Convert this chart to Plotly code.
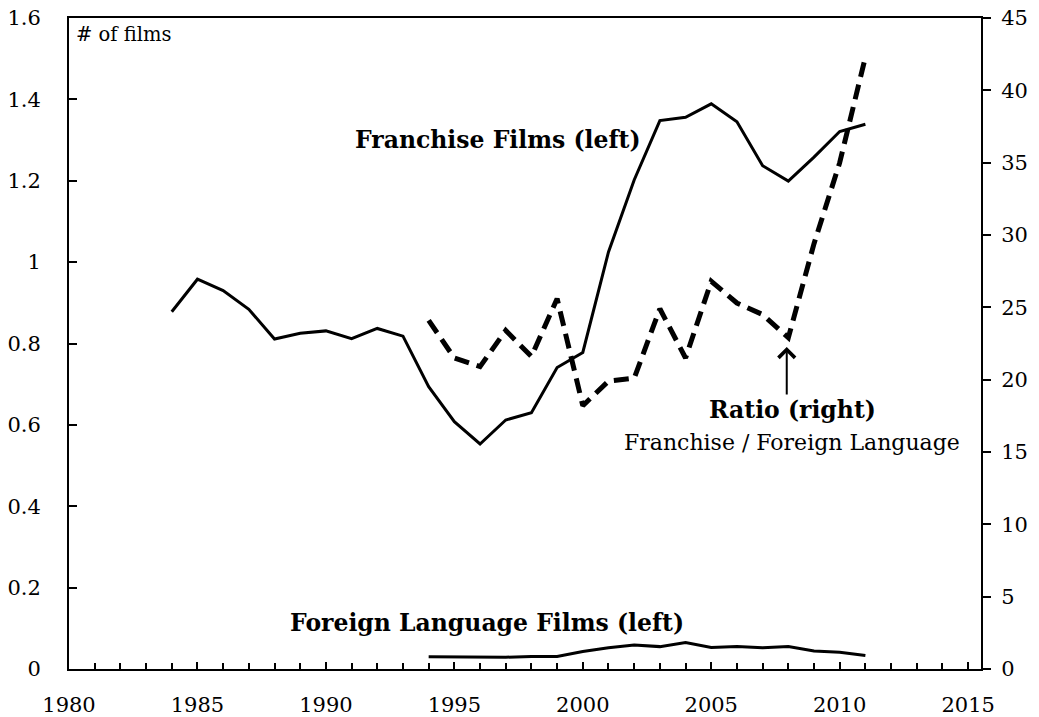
import plotly.graph_objects as go

# ---- data ----
years_franchise = list(range(1984, 2012))
franchise_films = [0.878, 0.958, 0.930, 0.884, 0.811, 0.825, 0.831, 0.812, 0.837, 0.818,
                   0.694, 0.608, 0.553, 0.612, 0.630, 0.741, 0.778,
                   1.025, 1.202, 1.348, 1.356, 1.389, 1.345, 1.237, 1.199, 1.258, 1.321, 1.339]

years_foreign = list(range(1994, 2012))
foreign_films = [0.030, 0.030, 0.029, 0.029, 0.031, 0.031, 0.043, 0.052, 0.059, 0.055,
                 0.065, 0.053, 0.055, 0.052, 0.055, 0.044, 0.041, 0.033]

years_ratio = list(range(1994, 2012))
ratio = [24.1, 21.5, 20.9, 23.4, 21.6, 25.6, 18.2, 19.9, 20.1, 24.9,
         21.5, 26.8, 25.3, 24.5, 22.9, 29.4, 35.0, 42.3]

x_ticks = [1980, 1985, 1990, 1995, 2000, 2005, 2010, 2015]
left_ticks = [0, 0.2, 0.4, 0.6, 0.8, 1.0, 1.2, 1.4, 1.6]
left_labels = ["0", "0.2", "0.4", "0.6", "0.8", "1", "1.2", "1.4", "1.6"]
right_ticks = [0, 5, 10, 15, 20, 25, 30, 35, 40, 45]

FONT = "DejaVu Serif"

fig = go.Figure()
fig.add_trace(go.Scatter(x=years_franchise, y=franchise_films, mode="lines",
                         line=dict(color="black", width=3), name="Franchise Films (left)"))
fig.add_trace(go.Scatter(x=years_foreign, y=foreign_films, mode="lines",
                         line=dict(color="black", width=3), name="Foreign Language Films (left)"))
fig.add_trace(go.Scatter(x=years_ratio, y=ratio, mode="lines", yaxis="y2",
                         line=dict(color="black", width=5, dash="15px,8px"), name="Ratio (right)"))

fig.update_layout(
    width=1039, height=717,
    margin=dict(l=69, r=58, t=18, b=48),
    paper_bgcolor="white", plot_bgcolor="white",
    showlegend=False,
    font=dict(family=FONT, size=21, color="black"),
    xaxis=dict(range=[1980, 2015.5], tickvals=x_ticks, ticks="inside", ticklen=7,
               tickwidth=2, tickcolor="black", showline=True, linewidth=2,
               linecolor="black", mirror=True, showgrid=False, zeroline=False,
               ticklabelstandoff=16, automargin=False, ticklabeloverflow="allow",
               minor=dict(dtick=1, tick0=1980, ticks="inside", ticklen=6,
                          tickwidth=2, tickcolor="black", showgrid=False)),
    yaxis=dict(range=[0, 1.6], tickvals=left_ticks, ticktext=left_labels,
               ticks="inside", ticklen=8, tickwidth=2, tickcolor="black",
               showline=True, linewidth=2, linecolor="black", showgrid=False,
               zeroline=False, ticklabelstandoff=22, automargin=False,
               ticklabeloverflow="allow"),
    yaxis2=dict(range=[0, 45], tickvals=right_ticks, overlaying="y", side="right",
                ticks="outside", ticklen=8, tickwidth=2, tickcolor="black",
                showline=True, linewidth=2, linecolor="black", showgrid=False,
                zeroline=False, ticklabelstandoff=6, automargin=False,
                ticklabeloverflow="allow"),
)

ann = [
    dict(text="# of films", x=0.006, y=0.974, xanchor="left", yanchor="middle",
         font=dict(size=19.5)),
    dict(text="<b>Franchise Films (left)</b>", x=0.470, y=0.8126, xanchor="center",
         yanchor="middle", font=dict(size=23.5)),
    dict(text="<b>Ratio (right)</b>", x=0.7928, y=0.3978, xanchor="center",
         yanchor="middle", font=dict(size=23.5)),
    dict(text="Franchise / Foreign Language", x=0.7928, y=0.3472, xanchor="center",
         yanchor="middle", font=dict(size=22)),
    dict(text="<b>Foreign Language Films (left)</b>", x=0.458, y=0.0707,
         xanchor="center", yanchor="middle", font=dict(size=23.5)),
]
for a in ann:
    fig.add_annotation(xref="paper", yref="paper", showarrow=False, **a)

fig.add_annotation(xref="paper", yref="paper", x=0.787, y=0.4946, text="",
                   showarrow=True, ax=0, ay=49, arrowhead=4, arrowsize=1.6,
                   arrowwidth=2, arrowcolor="black", standoff=0)

fig.write_html("out.html", config={"displayModeBar": False},
               post_script="document.body.style.margin='0';document.body.style.overflow='hidden';")
